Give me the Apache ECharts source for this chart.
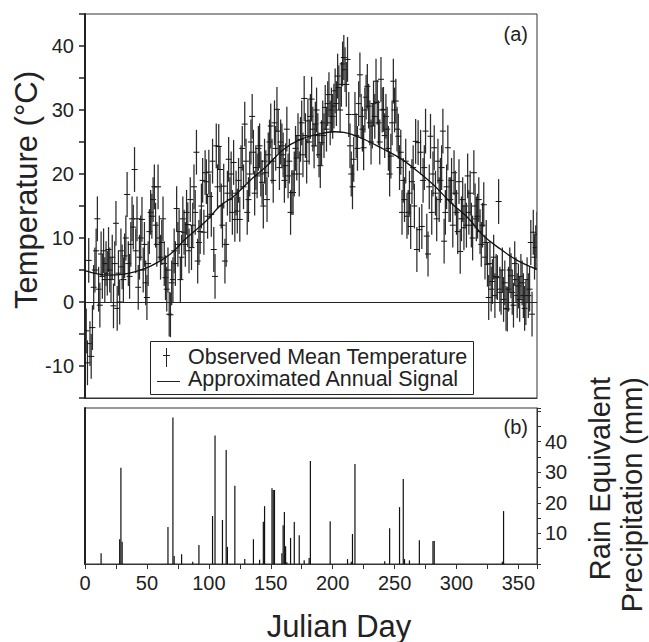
<!DOCTYPE html>
<html>
<head>
<meta charset="utf-8">
<script src="https://cdn.jsdelivr.net/npm/echarts@6/dist/echarts.min.js"></script>
<style>html,body{margin:0;padding:0;background:#fff}#c{width:649px;height:642px}</style>
</head>
<body>
<div id="c"></div>
<script>
// ---------- data ----------
// Daily observed mean temperature (°C), Julian day 1..365
const tempMean = [
 -4.5,-9.5,6.5,-6.5,-8.5,-4,2.3,5,8,13,
 2,-0.5,7.5,4,8,3.5,6,4.5,8.2,5,
 3.5,7,-0.6,6,12.3,-1,4.5,0,8,5.5,
 3.5,7.2,10,16.8,6,4,9,13,11.7,20.7,
 8,13,2.3,7,10,12.9,5,9,3,0.7,
 6,11,14,13.4,16,18,12,9,18,10,
 7,9.3,13,6,3.8,2,5,-1.9,-2,3,
 3.5,8,6,14.6,9,11,3.5,7,13,10.9,
 9,14,12.1,8,16,8.5,12,18,14,23.4,
 6.4,9.3,11,15,19,10.9,20.2,18.8,13.4,20.3,
 16.5,13.7,22,8.2,4,24.4,18,24.3,20.7,15,
 12,18.1,6.4,9,17,22.3,16,20,14,21.8,
 12.9,17,14.2,19,12.9,21,24,18,27.8,22,
 14,16,20,25,29,23.4,17,21,19.7,24,
 24.4,20,18.7,15,22,20.2,16,23,25,27.5,
 22,19,28,24,30.1,26.7,21,25,24.4,23,
 19,21.3,27,19.7,22,14,17.1,17.1,20,24,
 22.5,26,20,25.4,28,23,31.8,26,22,28.3,
 25,29,31.7,27,24.4,27.8,30,26,23,21.3,
 24.9,28,26,30.4,27,31,32.4,28,30,29,
 30.6,33,31,35.3,33.5,30,34,37.2,38.2,36.3,
 34,37.9,29.3,24.4,20,18,22.3,29.3,26,24,
 31,35.5,29,27,24.1,30,32,33.7,30.6,28,
 25,27.5,31,29,34.5,31.2,28,25,34.8,30,
 30.1,26,29,27,24,20,22.8,28,34.5,30,
 31.4,27,25.9,21,23.4,14,19,16,22,13.4,
 14,17,11.8,18.8,21,15,25.1,8.2,24.9,11.3,
 23.4,11.8,19,21,26.7,10.3,7.5,18,25.9,14,
 20,24.1,17,13,22,16,19,21,26.7,9.5,
 14,18,24.1,16,16,19,12,20.2,17,14,
 11,18.8,7.9,13,16,11.6,15,12,19.7,14,
 17,12,10,20.2,15,13,13.4,16,11,9,
 12,15.2,7,9.3,5.9,0.7,6,2,3.2,7,
 1,4,3.8,15.7,2,1.5,5,0.4,3,-1,
 -1.1,2,5,4.1,1.5,-0.5,6,3.5,1,2.5,
 0.4,4,3,1,-1,-0.1,3.5,1,2,9.3,
 -1.9,10.9,7,8.5,10.6
];
const tempErrHalf = 3.5; // half length of the error bars (°C)

// Approximated annual signal (read at selected days)
const signalDays   = [0,10,20,30,40,53,69,82,98,109,120,135,147,160,174,188,201,209,222,241,255,270,282,295,309,322,336,349,365];
const signalValues = [4.9,4.4,4.2,4.3,4.7,5.6,7.5,10,12.7,15,16.5,19.3,21.3,23.8,25.4,26.2,26.6,26.5,25.7,23.9,22.4,20.2,18.2,15.6,13.2,10.3,8.2,6.5,5.1];

// Rain equivalent precipitation (mm)
const precipDays   = [13,28,29,30,67,71,72,78,87,92,103,105,111,114,115,121,129,136,141,144,145,151,152,153,159,160,161,162,163,166,169,173,177,181,182,198,212,215,216,218,242,246,254,257,258,262,270,281,282,337,338];
const precipValues = [3.5,8.1,31.5,7.3,12.1,47.9,2.6,3.2,0.7,6.2,15.7,42,14.4,37.3,5.6,25.6,1.6,8.1,1.4,13.8,18.9,24.8,24.2,24.2,3.5,12.7,17,5.8,0.6,8.5,13.7,9.4,1.2,2,33.7,14,1.6,0.7,9.8,32.7,0.9,11.7,18.6,27.8,1.6,1.2,7.8,7.5,7.5,0.7,17.3];

// Tick labels
const xTickLabels = [0,50,100,150,200,250,300,350];
const tempTickLabels = [-10,0,10,20,30,40];
const precipTickLabels = [10,20,30,40];

// ---------- chart ----------
const FONT = "'Liberation Sans', Arial, sans-serif";
const INK = '#222';
const chart = echarts.init(document.getElementById('c'), null, {renderer: 'svg'});

function renderErr(params, api) {
  const d = api.value(0), t = api.value(1), e = api.value(2);
  const c = api.coord([d, t]);
  const top = api.coord([d, t + e]);
  const bot = api.coord([d, t - e]);
  const x = c[0];
  return {
    type: 'group',
    children: [
      {type: 'line', shape: {x1: x, y1: top[1], x2: x, y2: bot[1]}, style: {stroke: '#2a2a2a', lineWidth: 1.25}},
      {type: 'line', shape: {x1: x - 3, y1: c[1], x2: x + 3, y2: c[1]}, style: {stroke: '#111', lineWidth: 1}}
    ]
  };
}

const option = {
  animation: false,
  backgroundColor: '#fff',
  textStyle: {fontFamily: FONT, color: INK},
  grid: [
    {left: 85, right: 112, top: 14, height: 384, show: true, borderColor: '#333', borderWidth: 1},
    {left: 85, right: 112, top: 408, height: 156, show: true, borderColor: '#333', borderWidth: 1}
  ],
  xAxis: [
    {gridIndex: 0, type: 'value', min: 0, max: 365, interval: 25,
     axisLine: {show: true, onZero: false, lineStyle: {color: '#333'}}, axisTick: {show: false},
     axisLabel: {show: false}, splitLine: {show: false}},
    {gridIndex: 1, type: 'value', min: 0, max: 365, interval: 25,
     axisLine: {show: true, onZero: false, lineStyle: {color: '#333'}},
     axisTick: {show: true, length: 5, lineStyle: {color: '#333'}},
     axisLabel: {margin: 9, fontSize: 20, color: INK, fontFamily: FONT,
       formatter: v => xTickLabels.includes(v) ? String(v) : ''},
     splitLine: {show: false}}
  ],
  yAxis: [
    {gridIndex: 0, type: 'value', min: -15, max: 45, interval: 5,
     axisLine: {show: true, onZero: false, lineStyle: {color: INK, width: 2}},
     axisTick: {show: true, length: 6, lineStyle: {color: INK, width: 1.5}},
     axisLabel: {margin: 11, fontSize: 20, color: INK, fontFamily: FONT,
       formatter: v => tempTickLabels.includes(v) ? String(v) : ''},
     splitLine: {show: false}},
    {gridIndex: 1, type: 'value', position: 'right', min: 0, max: 51, interval: 5,
     axisLine: {show: true, onZero: false, lineStyle: {color: '#333'}},
     axisTick: {show: true, length: 4, lineStyle: {color: '#333'}},
     axisLabel: {margin: 8, fontSize: 20, color: INK, fontFamily: FONT,
       formatter: v => precipTickLabels.includes(v) ? String(v) : ''},
     splitLine: {show: false}},
    {gridIndex: 1, type: 'value', position: 'left', min: 0, max: 51,
     axisLine: {show: true, onZero: false, lineStyle: {color: INK, width: 2}},
     axisTick: {show: false}, axisLabel: {show: false}, splitLine: {show: false}}
  ],
  series: [
    {
      name: 'Observed Mean Temperature', type: 'custom', xAxisIndex: 0, yAxisIndex: 0,
      renderItem: renderErr, clip: true,
      data: tempMean.map((t, i) => [i + 1, t, tempErrHalf]),
      encode: {x: 0, y: 1}, z: 2
    },
    {
      name: 'Approximated Annual Signal', type: 'line', xAxisIndex: 0, yAxisIndex: 0,
      data: signalDays.map((d, i) => [d, signalValues[i]]),
      smooth: 0.4, showSymbol: false, symbol: 'none',
      lineStyle: {color: '#111', width: 1.3}, z: 3,
      markLine: {silent: true, symbol: ['none', 'none'], label: {show: false},
        lineStyle: {color: INK, width: 1, type: 'solid'}, data: [{yAxis: 0}]}
    },
    {
      name: 'Precipitation', type: 'bar', xAxisIndex: 1, yAxisIndex: 1,
      data: precipDays.map((d, i) => [d, precipValues[i]]),
      barWidth: 1.2, itemStyle: {color: '#111'}
    }
  ],
  graphic: [
    {type: 'text', x: 26, y: 190, rotation: Math.PI / 2,
     style: {text: 'Temperature (°C)', font: '31px ' + FONT, fill: INK, textAlign: 'center', textVerticalAlign: 'middle'}},
    {type: 'text', x: 339, y: 626,
     style: {text: 'Julian Day', font: '31px ' + FONT, fill: INK, textAlign: 'center', textVerticalAlign: 'middle'}},
    {type: 'text', x: 600, y: 377, rotation: Math.PI / 2,
     style: {text: 'Rain Equivalent', font: '29px ' + FONT, fill: INK, textAlign: 'right', textVerticalAlign: 'middle'}},
    {type: 'text', x: 632, y: 377, rotation: Math.PI / 2,
     style: {text: 'Precipitation (mm)', font: '29px ' + FONT, fill: INK, textAlign: 'right', textVerticalAlign: 'middle'}},
    {type: 'text', x: 528, y: 34,
     style: {text: '(a)', font: '20px ' + FONT, fill: INK, textAlign: 'right', textVerticalAlign: 'middle'}},
    {type: 'text', x: 528, y: 427,
     style: {text: '(b)', font: '20px ' + FONT, fill: INK, textAlign: 'right', textVerticalAlign: 'middle'}},
    // legend box
    {type: 'rect', shape: {x: 150.5, y: 341.5, width: 323, height: 53}, style: {fill: '#fff', stroke: INK, lineWidth: 1}, z: 100},
    {type: 'line', shape: {x1: 166.5, y1: 348, x2: 166.5, y2: 367}, style: {stroke: INK, lineWidth: 1}, z: 101},
    {type: 'line', shape: {x1: 163, y1: 355.5, x2: 170, y2: 355.5}, style: {stroke: INK, lineWidth: 1}, z: 101},
    {type: 'line', shape: {x1: 157, y1: 381.5, x2: 180, y2: 381.5}, style: {stroke: INK, lineWidth: 1}, z: 101},
    {type: 'text', x: 188, y: 357, z: 101,
     style: {text: 'Observed Mean Temperature', font: '21.5px ' + FONT, fill: INK, textAlign: 'left', textVerticalAlign: 'middle'}},
    {type: 'text', x: 188, y: 379, z: 101,
     style: {text: 'Approximated Annual Signal', font: '21.5px ' + FONT, fill: INK, textAlign: 'left', textVerticalAlign: 'middle'}}
  ]
};
chart.setOption(option);
</script>
</body>
</html>
